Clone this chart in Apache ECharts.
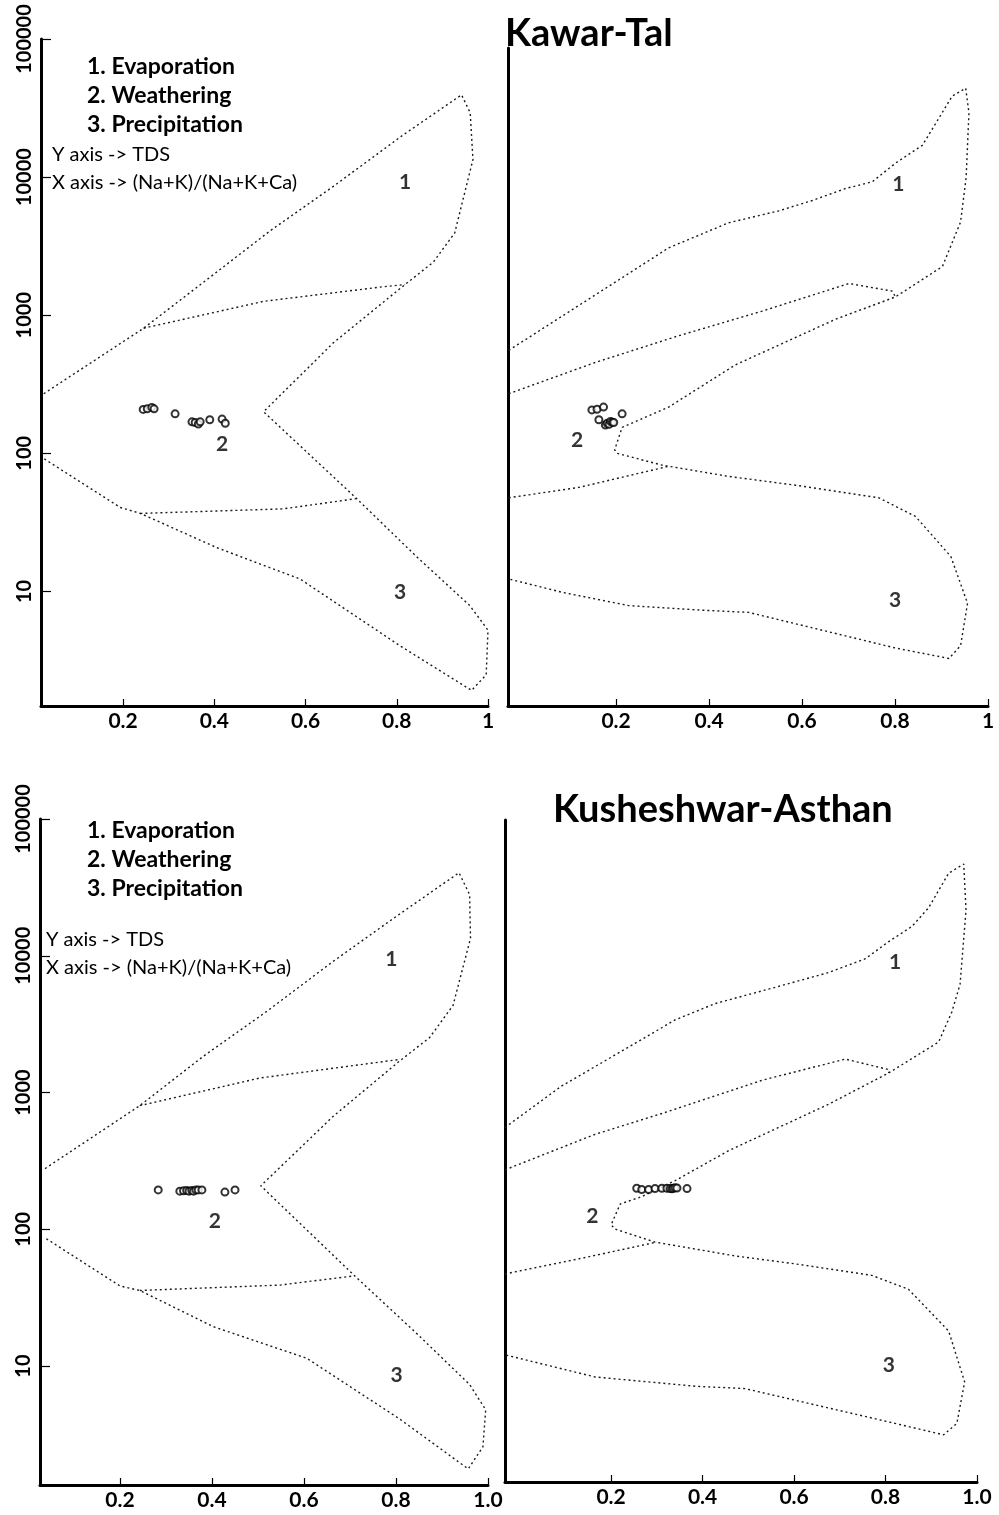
<!DOCTYPE html>
<html>
<head>
<meta charset="utf-8">
<title>Gibbs diagram</title>
<script src="https://cdn.jsdelivr.net/npm/echarts@6/dist/echarts.min.js"></script>
<style>
  html, body { margin: 0; padding: 0; background: #fff; }
  #main { width: 999px; height: 1515px; }
</style>
</head>
<body>
<div id="main"></div>
<script>
// axis ticks
const xTicks = [0.2, 0.4, 0.6, 0.8, 1]
const yTicks = [10, 100, 1000, 10000, 100000]
const zoneNames = ['1', '2', '3']

// Kawar-Tal, left panel  [ (Na+K)/(Na+K+Ca), TDS ]
const kawarLeftOutline = [[0.026, 270], [0.245, 805], [0.376, 1730], [0.522, 4075], [0.661, 8570], [0.814, 20200], [0.942, 39400], [0.961, 29240], [0.967, 13400], [0.927, 3940], [0.880, 2420], [0.818, 1667], [0.661, 631], [0.508, 200], [0.712, 47], [0.843, 17.9], [0.960, 7.9], [1.0, 5.24], [0.996, 2.49], [0.964, 1.92], [0.807, 4.04], [0.588, 12.3], [0.406, 20.7], [0.238, 36.7], [0.194, 40.5], [0.026, 91.6]]
const kawarLeftUpperDivide = [[0.245, 805], [0.508, 1260], [0.770, 1607], [0.818, 1667]]
const kawarLeftLowerDivide = [[0.238, 36.7], [0.551, 39.6], [0.712, 47]]
const kawarLeftSamples = [[0.244, 208], [0.253, 210], [0.263, 215], [0.268, 210], [0.314, 193], [0.351, 169], [0.358, 167], [0.365, 163], [0.369, 169], [0.390, 175], [0.417, 177], [0.424, 165]]
const kawarLeftZones = [[0.818, 9230], [0.417, 116], [0.807, 9.85]]

// Kawar-Tal, right panel
const kawarRightOutline = [[-0.031, 556], [0.213, 1866], [0.313, 3070], [0.442, 4660], [0.550, 5690], [0.622, 6760], [0.694, 8260], [0.751, 9230], [0.801, 12600], [0.859, 16980], [0.887, 24300], [0.923, 38500], [0.952, 44000], [0.959, 29200], [0.953, 9950], [0.941, 4720], [0.902, 2250], [0.801, 1355], [0.672, 933], [0.457, 437], [0.313, 216], [0.213, 154], [0.197, 106], [0.202, 100], [0.299, 82], [0.442, 68], [0.586, 58.7], [0.765, 47.6], [0.844, 34.9], [0.920, 17.9], [0.956, 8.2], [0.941, 4.04], [0.916, 3.27], [0.801, 3.89], [0.485, 7.05], [0.385, 7.31], [0.227, 7.89], [0.084, 9.85], [-0.031, 12.3]]
const kawarRightUpperDivide = [[-0.031, 270], [0.155, 454], [0.335, 710], [0.514, 1069], [0.701, 1694], [0.794, 1493], [0.801, 1355]]
const kawarRightLowerDivide = [[-0.031, 47.6], [0.120, 56.6], [0.310, 80]]
const kawarRightSamples = [[0.148, 206], [0.159, 208], [0.173, 216], [0.163, 175], [0.177, 160], [0.181, 165], [0.185, 162], [0.188, 170], [0.192, 168], [0.195, 167], [0.213, 193]]
const kawarRightZones = [[0.807, 8900], [0.116, 124], [0.800, 8.6]]

// Kusheshwar-Asthan, left panel
const kushLeftOutline = [[0.037, 278], [0.243, 802], [0.381, 1840], [0.519, 3920], [0.663, 9080], [0.801, 19450], [0.937, 40450], [0.960, 28050], [0.962, 13400], [0.924, 4340], [0.873, 2520], [0.808, 1702], [0.663, 668], [0.506, 208], [0.710, 45.7], [0.845, 17.3], [0.960, 7.33], [0.995, 4.79], [0.989, 2.57], [0.957, 1.77], [0.808, 4.10], [0.606, 11.4], [0.403, 19.4], [0.243, 35.7], [0.200, 38.5], [0.037, 86.5]]
const kushLeftUpperDivide = [[0.243, 802], [0.504, 1277], [0.808, 1746]]
const kushLeftLowerDivide = [[0.243, 35.7], [0.548, 39.1], [0.710, 45.7]]
const kushLeftSamples = [[0.283, 194], [0.330, 190], [0.338, 191], [0.345, 192], [0.350, 190], [0.356, 192], [0.360, 190], [0.365, 194], [0.370, 194], [0.378, 194], [0.428, 187], [0.450, 194]]
const kushLeftZones = [[0.790, 9440], [0.406, 114], [0.801, 8.58]]

// Kusheshwar-Asthan, right panel
const kushRightOutline = [[-0.032, 551], [0.092, 1109], [0.223, 1990], [0.340, 3370], [0.427, 4430], [0.566, 5920], [0.675, 7470], [0.756, 9440], [0.807, 12590], [0.858, 16270], [0.894, 22200], [0.938, 39800], [0.971, 46500], [0.976, 21400], [0.963, 6150], [0.945, 3850], [0.916, 2320], [0.807, 1380], [0.675, 813], [0.457, 373], [0.340, 225], [0.267, 172], [0.220, 152], [0.200, 107], [0.209, 99.5], [0.296, 80], [0.471, 63.4], [0.602, 55.5], [0.770, 45.7], [0.850, 36.2], [0.938, 17.9], [0.973, 7.6], [0.956, 3.78], [0.927, 3.12], [0.821, 3.78], [0.493, 6.79], [0.384, 7.07], [0.165, 8.26], [-0.032, 12.0]]
const kushRightUpperDivide = [[-0.032, 270], [0.165, 491], [0.311, 697], [0.530, 1219], [0.712, 1742], [0.807, 1459], [0.807, 1380]]
const kushRightLowerDivide = [[-0.032, 46.8], [0.150, 62.4], [0.300, 80]]
const kushRightSamples = [[0.256, 198], [0.267, 194], [0.282, 194], [0.296, 197], [0.311, 198], [0.322, 198], [0.329, 197], [0.333, 196], [0.336, 198], [0.340, 200], [0.344, 199], [0.366, 197]]
const kushRightZones = [[0.821, 8940], [0.159, 124], [0.807, 10]]

const FONT = 'Lato'

// grid box, axis ranges and labels of the 4 panels
const panels = [
    { grid: { left: 41, top: 39, width: 447, height: 667 }, x: [0.02, 1], y: [1.48, 100000], yLabels: true, oneDigit: false,
      outline: kawarLeftOutline, upper: kawarLeftUpperDivide, lower: kawarLeftLowerDivide, samples: kawarLeftSamples, zones: kawarLeftZones },
    { grid: { left: 508, top: 48, width: 480, height: 658 }, x: [-0.0325, 1], y: [1.48, 85900], yLabels: false, oneDigit: false,
      outline: kawarRightOutline, upper: kawarRightUpperDivide, lower: kawarRightLowerDivide, samples: kawarRightSamples, zones: kawarRightZones },
    { grid: { left: 40, top: 819, width: 448, height: 666 }, x: [0.026, 1], y: [1.35, 100000], yLabels: true, oneDigit: true,
      outline: kushLeftOutline, upper: kushLeftUpperDivide, lower: kushLeftLowerDivide, samples: kushLeftSamples, zones: kushLeftZones },
    { grid: { left: 505, top: 820, width: 472, height: 662 }, x: [-0.032, 1], y: [1.41, 97500], yLabels: false, oneDigit: true,
      outline: kushRightOutline, upper: kushRightUpperDivide, lower: kushRightLowerDivide, samples: kushRightSamples, zones: kushRightZones },
]

const axisLine = { onZero: false, lineStyle: { color: '#000', width: 3 } }
const tickLabel = { fontFamily: FONT, fontWeight: 'bold', color: '#000' }

const grids = [], xAxes = [], yAxes = [], series = []
panels.forEach((p, i) => {
    grids.push(p.grid)
    xAxes.push({
        gridIndex: i, type: 'value', min: p.x[0], max: p.x[1],
        axisLine: axisLine,
        axisTick: { inside: true, length: 7, customValues: xTicks, lineStyle: { color: '#000', width: 1.2 } },
        axisLabel: { ...tickLabel, fontSize: 21, margin: 5, customValues: xTicks,
            formatter: v => (p.oneDigit || v !== 1) ? v.toFixed(1) : '1' },
        splitLine: { show: false }
    })
    yAxes.push({
        gridIndex: i, type: 'log', logBase: 10, min: p.y[0], max: p.y[1],
        axisLine: axisLine,
        axisTick: { show: p.yLabels, inside: true, length: 10, customValues: yTicks, lineStyle: { color: '#000', width: 1.2 } },
        axisLabel: { ...tickLabel, show: p.yLabels, fontSize: 20, rotate: 90, margin: 6, customValues: yTicks,
            formatter: v => String(v) },
        splitLine: { show: false }
    })

    const dotted = { color: '#1a1a1a', width: 1.4, type: [2, 3] }
    const line = data => ({ type: 'line', xAxisIndex: i, yAxisIndex: i, data: data, symbol: 'none', lineStyle: dotted, silent: true, z: 2 })
    series.push(line(p.outline), line(p.upper), line(p.lower))
    series.push({
        type: 'scatter', xAxisIndex: i, yAxisIndex: i, data: p.samples,
        symbol: 'emptyCircle', symbolSize: 7,
        itemStyle: { color: '#000', borderWidth: 1.3 }, z: 3
    })
    series.push({
        type: 'scatter', xAxisIndex: i, yAxisIndex: i, symbolSize: 0,
        data: p.zones.map((v, k) => ({ value: v, name: zoneNames[k] })),
        label: { show: true, position: 'inside', formatter: '{b}', fontFamily: FONT, fontWeight: 'bold', fontSize: 21, color: '#000' },
        z: 4
    })
})

// key text in the left panels
function keyText(left, top, small) {
    const bigFont = 'bold 23px ' + FONT
    const smallFont = '20px ' + FONT
    const t = (x, y, text, font) => ({ type: 'text', x: x, y: y, style: { text: text, font: font, fill: '#000', verticalAlign: 'middle' } })
    return [
        t(left, top, '1. Evaporation', bigFont),
        t(left, top + 29, '2. Weathering', bigFont),
        t(left, top + 58, '3. Precipitation', bigFont),
        t(small[0], small[1], 'Y axis -> TDS', smallFont),
        t(small[0], small[1] + 28, 'X axis -> (Na+K)/(Na+K+Ca)', smallFont)
    ]
}

const chart = echarts.init(document.getElementById('main'))
chart.setOption({
    animation: false,
    backgroundColor: '#fff',
    title: [
        { text: 'Kawar-Tal', left: 500, top: 10, textStyle: { fontFamily: FONT, fontWeight: 'bold', fontSize: 38, color: '#000' } },
        { text: 'Kusheshwar-Asthan', left: 548, top: 786, textStyle: { fontFamily: FONT, fontWeight: 'bold', fontSize: 38, color: '#000' } }
    ],
    grid: grids,
    xAxis: xAxes,
    yAxis: yAxes,
    series: series,
    graphic: keyText(87, 67, [52, 155]).concat(keyText(87, 831, [46, 940]))
})
</script>
</body>
</html>
